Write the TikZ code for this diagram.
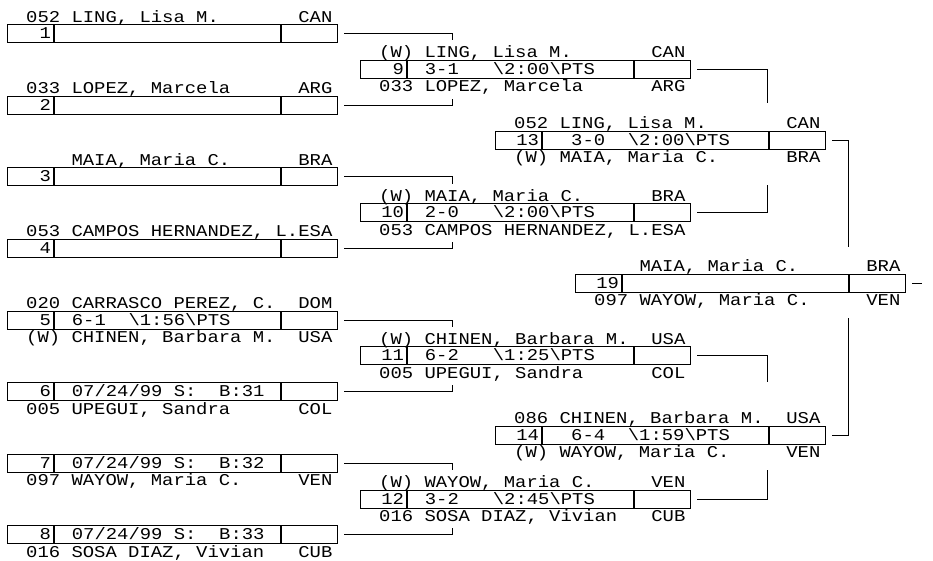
\documentclass[tikz,border=0pt]{standalone}
\usepackage{fontspec}
\newfontfamily\mono{Liberation Mono}[FakeStretch=1.145]
\usetikzlibrary{positioning}
\newcommand{\brfont}{\mono\fontsize{16.5pt}{18pt}\selectfont}
\newcommand{\plname}[1]{\makebox[272.2pt][l]{#1}}
\newcommand{\seed}[1]{\makebox[41pt][r]{#1}}
\newcommand{\score}[1]{\makebox[220pt][l]{\hspace*{3pt}#1}}

\begin{document}
\begin{tikzpicture}[x=1pt, y=-1pt, every node/.style={font=\brfont},
      numcell/.style={draw, line width=1pt, anchor=west, minimum width=46pt, minimum height=18pt,
                      inner sep=0pt, text height=10pt, text depth=0pt},
      midcell/.style={draw, line width=1pt, minimum width=226pt, minimum height=18pt,
                      inner sep=0pt, text height=10pt, text depth=0pt},
      ctycell/.style={draw, line width=1pt, minimum width=56pt, minimum height=18pt, inner sep=0pt},
      lbl/.style={anchor=base west, inner sep=0pt},
      wire/.style={line width=1pt}]
    \useasboundingbox (0,0) rectangle (933,560);

    % first round
    \node[numcell] (n1) at (7,33.5) {\seed{1}};
    \node[midcell, right=0pt of n1] (m1) {};
    \node[ctycell, right=0pt of m1] (c1) {};
    \node[numcell] (n2) at (7,105) {\seed{2}};
    \node[midcell, right=0pt of n2] (m2) {};
    \node[ctycell, right=0pt of m2] (c2) {};
    \node[numcell] (n3) at (7,176.5) {\seed{3}};
    \node[midcell, right=0pt of n3] (m3) {};
    \node[ctycell, right=0pt of m3] (c3) {};
    \node[numcell] (n4) at (7,248) {\seed{4}};
    \node[midcell, right=0pt of n4] (m4) {};
    \node[ctycell, right=0pt of m4] (c4) {};
    \node[numcell] (n5) at (7,320) {\seed{5}};
    \node[midcell, right=0pt of n5] (m5) {\score{~6-1~~\textbackslash 1:56\textbackslash PTS}};
    \node[ctycell, right=0pt of m5] (c5) {};
    \node[numcell] (n6) at (7,391.5) {\seed{6}};
    \node[midcell, right=0pt of n6] (m6) {\score{~07/24/99~S:~~B:31}};
    \node[ctycell, right=0pt of m6] (c6) {};
    \node[numcell] (n7) at (7,463) {\seed{7}};
    \node[midcell, right=0pt of n7] (m7) {\score{~07/24/99~S:~~B:32}};
    \node[ctycell, right=0pt of m7] (c7) {};
    \node[numcell] (n8) at (7,534.5) {\seed{8}};
    \node[midcell, right=0pt of n8] (m8) {\score{~07/24/99~S:~~B:33}};
    \node[ctycell, right=0pt of m8] (c8) {};

    \node[lbl] (la1) at (26,22)    {\plname{052 LING, Lisa M.}CAN};
    \node[lbl] (la2) at (26,93.5)  {\plname{033 LOPEZ, Marcela}ARG};
    \node[lbl] (la3) at (26,165)   {\plname{~~~~MAIA, Maria C.}BRA};
    \node[lbl] (la4) at (26,236.5) {\plname{053 CAMPOS HERNANDEZ, L.}ESA};
    \node[lbl] (la5) at (26,308.5) {\plname{020 CARRASCO PEREZ, C.}DOM};
    \node[lbl] (lb5) at (26,342.5) {\plname{(W) CHINEN, Barbara M.}USA};
    \node[lbl] (lb6) at (26,414)   {\plname{005 UPEGUI, Sandra}COL};
    \node[lbl] (lb7) at (26,485.5) {\plname{097 WAYOW, Maria C.}VEN};
    \node[lbl] (lb8) at (26,557)   {\plname{016 SOSA DIAZ, Vivian}CUB};

    % second round
    \node[numcell] (n9) at (360,69) {\seed{9}};
    \node[midcell, right=0pt of n9] (m9) {\score{~3-1~~~\textbackslash 2:00\textbackslash PTS}};
    \node[ctycell, right=0pt of m9] (c9) {};
    \node[numcell] (n10) at (360,212.5) {\seed{10}};
    \node[midcell, right=0pt of n10] (m10) {\score{~2-0~~~\textbackslash 2:00\textbackslash PTS}};
    \node[ctycell, right=0pt of m10] (c10) {};
    \node[numcell] (n11) at (360,355.7) {\seed{11}};
    \node[midcell, right=0pt of n11] (m11) {\score{~6-2~~~\textbackslash 1:25\textbackslash PTS}};
    \node[ctycell, right=0pt of m11] (c11) {};
    \node[numcell] (n12) at (360,499) {\seed{12}};
    \node[midcell, right=0pt of n12] (m12) {\score{~3-2~~~\textbackslash 2:45\textbackslash PTS}};
    \node[ctycell, right=0pt of m12] (c12) {};

    \node[lbl] (la9)  at (379,57.5)  {\plname{(W) LING, Lisa M.}CAN};
    \node[lbl] (lb9)  at (379,91.5)  {\plname{033 LOPEZ, Marcela}ARG};
    \node[lbl] (la10) at (379,201)   {\plname{(W) MAIA, Maria C.}BRA};
    \node[lbl] (lb10) at (379,235)   {\plname{053 CAMPOS HERNANDEZ, L.}ESA};
    \node[lbl] (la11) at (379,344)   {\plname{(W) CHINEN, Barbara M.}USA};
    \node[lbl] (lb11) at (379,378)   {\plname{005 UPEGUI, Sandra}COL};
    \node[lbl] (la12) at (379,487.5) {\plname{(W) WAYOW, Maria C.}VEN};
    \node[lbl] (lb12) at (379,521.5) {\plname{016 SOSA DIAZ, Vivian}CUB};

    % third round
    \node[numcell] (n13) at (495,140) {\seed{13}};
    \node[midcell, right=0pt of n13] (m13) {\score{~~3-0~~\textbackslash 2:00\textbackslash PTS}};
    \node[ctycell, right=0pt of m13] (c13) {};
    \node[numcell] (n14) at (495,435) {\seed{14}};
    \node[midcell, right=0pt of n14] (m14) {\score{~~6-4~~\textbackslash 1:59\textbackslash PTS}};
    \node[ctycell, right=0pt of m14] (c14) {};

    \node[lbl] (la13) at (514,128.5) {\plname{052 LING, Lisa M.}CAN};
    \node[lbl] (lb13) at (514,162.5) {\plname{(W) MAIA, Maria C.}BRA};
    \node[lbl] (la14) at (514,423.5) {\plname{086 CHINEN, Barbara M.}USA};
    \node[lbl] (lb14) at (514,457.5) {\plname{(W) WAYOW, Maria C.}VEN};

    % final
    \node[numcell] (n19) at (575,283) {\seed{19}};
    \node[midcell, right=0pt of n19] (m19) {};
    \node[ctycell, right=0pt of m19] (c19) {};
    \node[lbl] (la19) at (594,271.5) {\plname{~~~~MAIA, Maria C.}BRA};
    \node[lbl] (lb19) at (594,305.5) {\plname{097 WAYOW, Maria C.}VEN};

    % bracket lines
    \coordinate (k1) at (452,40);    \coordinate (k2) at (452,98.5);
    \coordinate (k3) at (452,183.5); \coordinate (k4) at (452,241.5);
    \coordinate (k5) at (452,327);   \coordinate (k6) at (452,385);
    \coordinate (k7) at (452,470);   \coordinate (k8) at (452,528);
    \coordinate (q9) at (767,103);   \coordinate (q10) at (767,185);
    \coordinate (q11) at (767,382);  \coordinate (q12) at (767,470);
    \coordinate (p13) at (848,247);  \coordinate (p14) at (848,318);
    \coordinate (out) at (922,283);
    \draw[wire] ([xshift=6pt]c1.east) -| (k1);
    \draw[wire] ([xshift=6pt]c2.east) -| (k2);
    \draw[wire] ([xshift=6pt]c3.east) -| (k3);
    \draw[wire] ([xshift=6pt]c4.east) -| (k4);
    \draw[wire] ([xshift=6pt]c5.east) -| (k5);
    \draw[wire] ([xshift=6pt]c6.east) -| (k6);
    \draw[wire] ([xshift=6pt]c7.east) -| (k7);
    \draw[wire] ([xshift=6pt]c8.east) -| (k8);
    \draw[wire] ([xshift=6pt]c9.east) -| (q9);
    \draw[wire] ([xshift=6pt]c10.east) -| (q10);
    \draw[wire] ([xshift=6pt]c11.east) -| (q11);
    \draw[wire] ([xshift=6pt]c12.east) -| (q12);
    \draw[wire] ([xshift=6pt]c13.east) -| (p13);
    \draw[wire] ([xshift=6pt]c14.east) -| (p14);
    \draw[wire] ([xshift=6pt]c19.east) -- (out);
  \end{tikzpicture}
\end{document}
